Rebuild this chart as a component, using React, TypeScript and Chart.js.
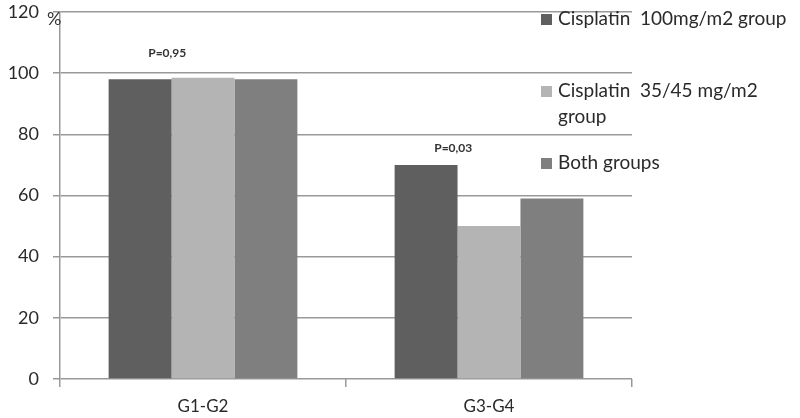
import React, { useEffect, useRef } from "react";
import { Chart, registerables } from "chart.js";

Chart.register(...registerables);

const categories = ["G1-G2", "G3-G4"];
const seriesNames = [
  ["Cisplatin  100mg/m2 group"],
  ["Cisplatin  35/45 mg/m2", "group"],
  ["Both groups"],
];
const seriesColors = ["#5f5f5f", "#b4b4b4", "#7f7f7f"];
const cis100Values = [98, 70];
const cis3545Values = [98.5, 50];
const bothValues = [98, 59];
const pLabels = ["P=0,95", "P=0,03"];
const pLabelLevels = [106.5, 75.5];
const yTicks = [0, 20, 40, 60, 80, 100, 120];
const yUnit = "%";

const FONT = "Lato, 'Open Sans', sans-serif";

export default function App() {
  const ref = useRef<HTMLCanvasElement>(null);
  useEffect(() => {
    document.body.style.margin = "0";
    const canvas = ref.current!;
    const overlay = {
      id: "overlay",
      afterDraw(chart: any) {
        const ctx = chart.ctx;
        const x = chart.scales.x;
        const y = chart.scales.y;
        ctx.save();
        ctx.font = "bold 12px " + FONT;
        ctx.fillStyle = "#333";
        ctx.textAlign = "center";
        ctx.textBaseline = "middle";
        const catW = x.getPixelForValue(1) - x.getPixelForValue(0);
        pLabels.forEach((t, i) => {
          ctx.fillText(t, x.getPixelForValue(i) - catW * 0.125, y.getPixelForValue(pLabelLevels[i]));
        });
        ctx.font = "18px " + FONT;
        ctx.textAlign = "left";
        ctx.fillText(yUnit, chart.chartArea.left - 13, y.getPixelForValue(120) + 7);
        const lx = chart.chartArea.right - 91;
        const rows = [19, 91, 163];
        chart.data.datasets.forEach((ds: any, i: number) => {
          const cy = rows[i];
          ctx.fillStyle = ds.backgroundColor;
          ctx.fillRect(lx, cy - 5, 11, 11);
          ctx.fillStyle = "#2a2a2a";
          ctx.font = "19px " + FONT;
          seriesNames[i].forEach((line, j) => {
            ctx.fillText(line, lx + 17, cy + j * 26);
          });
        });
        ctx.restore();
      },
    };
    const chart = new Chart(canvas, {
      type: "bar",
      data: {
        labels: categories,
        datasets: [
          { label: seriesNames[0].join(" "), data: cis100Values, backgroundColor: seriesColors[0] },
          { label: seriesNames[1].join(" "), data: cis3545Values, backgroundColor: seriesColors[1] },
          { label: seriesNames[2].join(" "), data: bothValues, backgroundColor: seriesColors[2] },
        ],
      },
      options: {
        responsive: false,
        animation: false,
        layout: { padding: { top: 12, right: 168, left: 0, bottom: 0 } },
        plugins: { legend: { display: false }, tooltip: { enabled: false } },
        datasets: { bar: { categoryPercentage: 0.66, barPercentage: 1 } },
        scales: {
          x: {
            afterFit(s: any) {
              s.height = 39;
              s.paddingLeft = 0;
              s.paddingRight = 0;
            },
            grid: { drawOnChartArea: false, drawTicks: true, tickLength: 8, color: "#999", lineWidth: 1.5 },
            border: { display: false },
            ticks: { font: { size: 17, family: FONT }, color: "#2a2a2a", padding: 9 },
          },
          y: {
            min: 0,
            max: 120,
            afterFit(s: any) {
              s.width = 60;
              s.paddingTop = 0;
              s.paddingBottom = 0;
            },
            afterBuildTicks(s: any) {
              s.ticks = yTicks.map((v) => ({ value: v }));
            },
            grid: { color: "#999", lineWidth: 1.5, tickLength: 7 },
            border: { display: true, color: "#999", width: 1.5 },
            ticks: { font: { size: 18, family: FONT }, color: "#2a2a2a", padding: 14 },
          },
        },
      },
      plugins: [overlay],
    });
    return () => chart.destroy();
  }, []);
  return <canvas ref={ref} width={800} height={418} style={{ display: "block" }} />;
}
